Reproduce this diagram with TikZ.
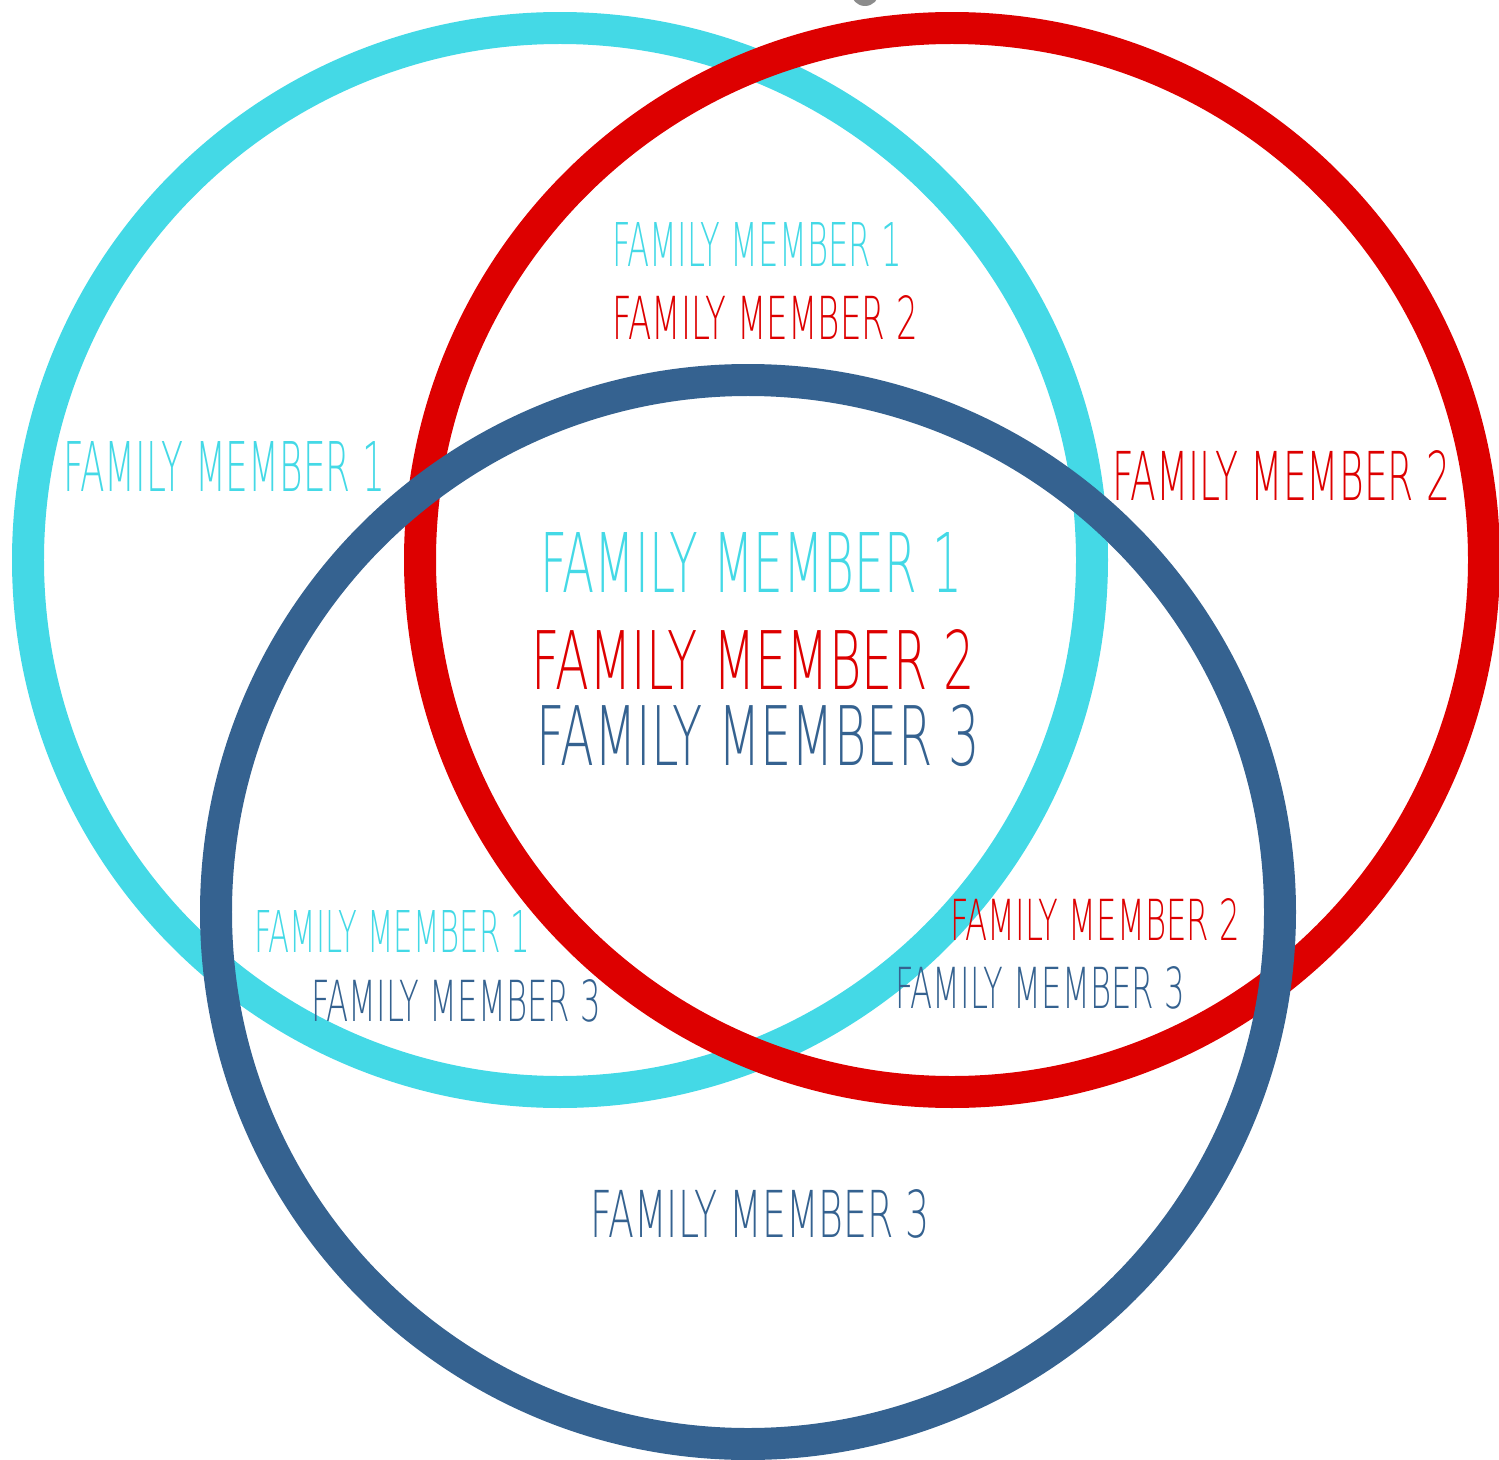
\documentclass[tikz,border=0pt]{standalone}
\usepackage{fontspec}
\usepackage{graphicx}
\newfontfamily\thinfont{DejaVu Sans ExtraLight}
\definecolor{fmcyan}{HTML}{44D9E6}
\definecolor{fmred}{HTML}{DD0000}
\definecolor{fmblue}{HTML}{356290}
\newcommand{\fmtext}[3]{\resizebox{#1cm}{#2cm}{\thinfont #3}}
\begin{document}
\begin{tikzpicture}[x=0.02cm,y=-0.02cm,
  ring/.style={line width=0.64cm},
  lbl/.style={inner sep=0pt,anchor=center}]
\useasboundingbox (0,0) rectangle (1499,1460);
\fill[gray!90] (865,-8) circle[radius=14];
% circles
\draw[ring,fmcyan] (560,560) circle[radius=532];
\draw[ring,fmred] (952,560) circle[radius=532];
\draw[ring,fmblue] (748,912) circle[radius=532];
% labels
\node[lbl,text=fmcyan] (top1) at (757,245) {\fmtext{5.8}{0.88}{FAMILY MEMBER 1}};
\node[lbl,text=fmred] (top2) at (765,318) {\fmtext{6.12}{0.88}{FAMILY MEMBER 2}};
\node[lbl,text=fmcyan] (left1) at (224,466) {\fmtext{6.44}{1.0}{FAMILY MEMBER 1}};
\node[lbl,text=fmred] (right2) at (1281,476) {\fmtext{6.76}{1.0}{FAMILY MEMBER 2}};
\node[lbl,text=fmcyan] (c1) at (751,562) {\fmtext{8.44}{1.2}{FAMILY MEMBER 1}};
\node[lbl,text=fmred] (c2) at (753,660) {\fmtext{8.86}{1.2}{FAMILY MEMBER 2}};
\node[lbl,text=fmblue] (c3) at (758,736) {\fmtext{8.86}{1.22}{FAMILY MEMBER 3}};
\node[lbl,text=fmcyan] (bl1) at (392,931) {\fmtext{5.52}{0.84}{FAMILY MEMBER 1}};
\node[lbl,text=fmblue] (bl3) at (456,1001) {\fmtext{5.8}{0.84}{FAMILY MEMBER 3}};
\node[lbl,text=fmred] (br2) at (1095,919) {\fmtext{5.8}{0.84}{FAMILY MEMBER 2}};
\node[lbl,text=fmblue] (br3) at (1040,988) {\fmtext{5.8}{0.84}{FAMILY MEMBER 3}};
\node[lbl,text=fmblue] (b3) at (760,1214) {\fmtext{6.8}{0.96}{FAMILY MEMBER 3}};
\end{tikzpicture}
\end{document}
